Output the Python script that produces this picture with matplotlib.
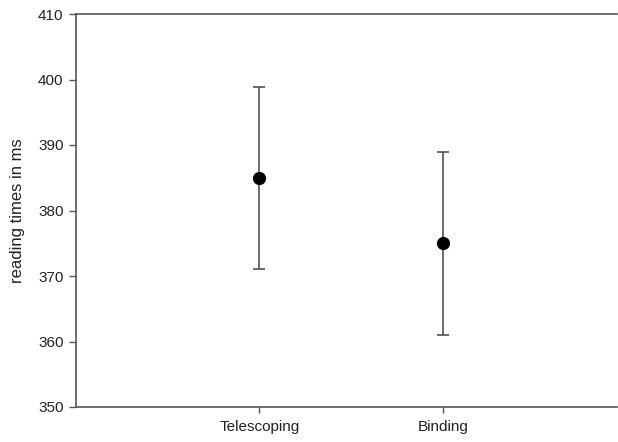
import matplotlib

matplotlib.use("Agg")
import matplotlib.pyplot as plt

conditions = ["Telescoping", "Binding"]
mean_rt = [384.9, 375.0]
err_rt = [13.9, 14.0]

plt.rcParams["font.family"] = ["Liberation Sans", "DejaVu Sans"]

fig = plt.figure(figsize=(6.18, 4.42), dpi=100)
ax = fig.add_axes([76 / 618, 1 - 407 / 442, (617 - 76) / 618, (407 - 14) / 442])

xs = range(1, len(conditions) + 1)
ax.errorbar(list(xs), mean_rt, yerr=err_rt, fmt="o", color="black", markersize=8.5,
            ecolor="#444444", elinewidth=1.1, capsize=4.5, capthick=1.1)

ax.set_xlim(0, 2.95)
ax.set_ylim(350, 410)
ax.set_yticks(range(350, 411, 10))
ax.set_xticks(list(xs))
ax.set_xticklabels(conditions)
ax.set_ylabel("reading times in ms", fontsize=12, color="#222222", labelpad=9)

ax.spines["right"].set_visible(False)
for side in ("left", "bottom", "top"):
    ax.spines[side].set_color("#555555")
    ax.spines[side].set_linewidth(1.2)
ax.tick_params(axis="both", direction="out", colors="#555555", labelcolor="#222222",
               labelsize=11, width=1)
ax.tick_params(axis="y", length=5, pad=4)
ax.tick_params(axis="x", length=4, pad=5)

fig.savefig("out.png", dpi=100)
